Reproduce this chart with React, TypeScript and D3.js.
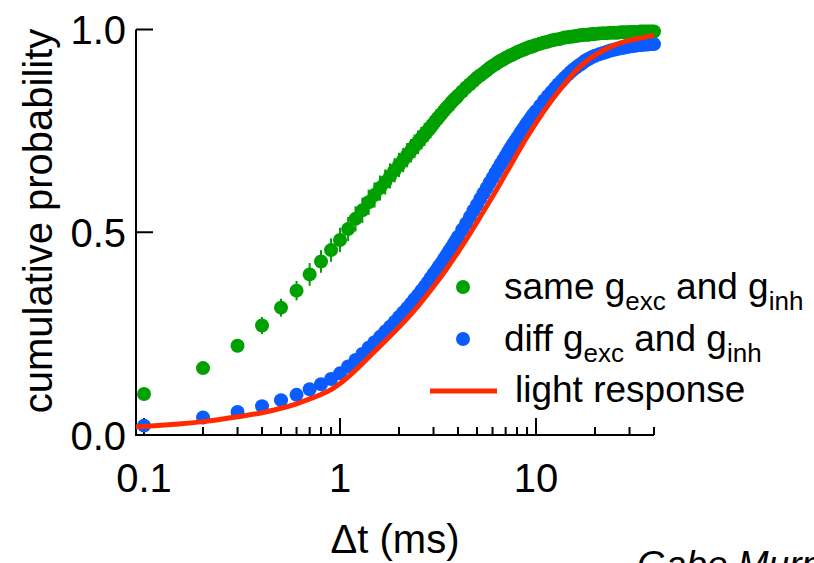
import React from "react";
import * as d3 from "d3";

// Sample times (ms) of the simulated cumulative distributions
const TIME = [
  0.1, 0.2, 0.3, 0.4, 0.5, 0.6, 0.7, 0.8, 0.9, 1.0,
  1.1, 1.2, 1.3, 1.4, 1.5, 1.6, 1.7, 1.8, 1.9, 2.0,
  2.1, 2.2, 2.3, 2.4, 2.5, 2.6, 2.7, 2.8, 2.9, 3.0,
  3.1, 3.2, 3.3, 3.4, 3.5, 3.6, 3.7, 3.8, 3.9, 4.0,
  4.2, 4.4, 4.6, 4.8, 5.0, 5.2, 5.4, 5.6, 5.8, 6.0,
  6.2, 6.4, 6.6, 6.8, 7.0, 7.2, 7.4, 7.6, 7.8, 8.0,
  8.2, 8.4, 8.6, 8.8, 9.0, 9.2, 9.4, 9.6, 9.8, 10,
  10.5, 11, 11.5, 12, 12.5, 13, 13.5, 14, 14.5, 15,
  15.5, 16, 16.5, 17, 17.5, 18, 18.5, 19, 19.5, 20,
  21, 22, 23, 24, 25, 26, 27, 28, 29, 30,
  31, 32, 33, 34, 35, 36, 37, 38, 39, 40,
];

// same g_exc and g_inh (green)
const SAME = [
  0.101, 0.165, 0.220, 0.270, 0.314, 0.356, 0.396, 0.428, 0.456, 0.481,
  0.508, 0.533, 0.554, 0.574, 0.592, 0.609, 0.624, 0.639, 0.653, 0.666,
  0.678, 0.690, 0.701, 0.712, 0.722, 0.732, 0.741, 0.750, 0.759, 0.768,
  0.777, 0.785, 0.792, 0.800, 0.807, 0.813, 0.820, 0.826, 0.831, 0.837,
  0.847, 0.857, 0.865, 0.873, 0.881, 0.887, 0.893, 0.899, 0.905, 0.910,
  0.914, 0.919, 0.923, 0.926, 0.930, 0.933, 0.936, 0.938, 0.941, 0.944,
  0.946, 0.948, 0.950, 0.952, 0.954, 0.956, 0.957, 0.959, 0.960, 0.962,
  0.965, 0.968, 0.970, 0.973, 0.975, 0.976, 0.978, 0.980, 0.981, 0.982,
  0.983, 0.984, 0.985, 0.986, 0.987, 0.987, 0.987, 0.988, 0.989, 0.989,
  0.990, 0.991, 0.991, 0.992, 0.992, 0.992, 0.993, 0.993, 0.993, 0.994,
  0.994, 0.994, 0.994, 0.995, 0.995, 0.995, 0.995, 0.995, 0.995, 0.995,
];

const SAME_ERR = [
  0.010, 0.012, 0.016, 0.021, 0.022, 0.024, 0.028, 0.028, 0.029, 0.030,
  0.030, 0.031, 0.031, 0.031, 0.031, 0.031, 0.031, 0.031, 0.030, 0.030,
  0.030, 0.030, 0.029, 0.029, 0.029, 0.028, 0.028, 0.027, 0.027, 0.026,
  0.026, 0.025, 0.024, 0.024, 0.023, 0.022, 0.022, 0.021, 0.020, 0.020,
  0.019, 0.018, 0.018, 0.017, 0.016, 0.016, 0.015, 0.015, 0.014, 0.014,
  0.013, 0.013, 0.013, 0.012, 0.012, 0.012, 0.011, 0.011, 0.011, 0.010,
  0.010, 0.010, 0.009, 0.009, 0.009, 0.009, 0.008, 0.008, 0.008, 0.008,
  0.008, 0.007, 0.007, 0.007, 0.007, 0.007, 0.006, 0.006, 0.006, 0.006,
  0.006, 0.006, 0.005, 0.005, 0.005, 0.005, 0.005, 0.005, 0.005, 0.005,
  0.005, 0.005, 0.004, 0.004, 0.004, 0.004, 0.004, 0.004, 0.004, 0.004,
  0.004, 0.004, 0.004, 0.004, 0.004, 0.004, 0.004, 0.004, 0.004, 0.004,
];

// diff g_exc and g_inh (blue)
const DIFF = [
  0.023, 0.043, 0.057, 0.071, 0.086, 0.099, 0.113, 0.125, 0.138, 0.152,
  0.169, 0.185, 0.200, 0.215, 0.229, 0.242, 0.255, 0.267, 0.279, 0.291,
  0.302, 0.313, 0.324, 0.335, 0.345, 0.356, 0.366, 0.376, 0.387, 0.397,
  0.406, 0.416, 0.425, 0.435, 0.444, 0.453, 0.462, 0.471, 0.480, 0.489,
  0.506, 0.522, 0.538, 0.554, 0.568, 0.583, 0.596, 0.609, 0.622, 0.634,
  0.646, 0.657, 0.668, 0.678, 0.688, 0.698, 0.707, 0.716, 0.724, 0.732,
  0.740, 0.748, 0.755, 0.762, 0.769, 0.775, 0.781, 0.788, 0.793, 0.799,
  0.812, 0.825, 0.836, 0.846, 0.856, 0.865, 0.873, 0.881, 0.888, 0.895,
  0.901, 0.906, 0.911, 0.915, 0.920, 0.924, 0.927, 0.930, 0.933, 0.935,
  0.939, 0.942, 0.945, 0.948, 0.950, 0.952, 0.954, 0.955, 0.957, 0.958,
  0.959, 0.960, 0.961, 0.962, 0.962, 0.963, 0.963, 0.964, 0.964, 0.964,
];

// light response (red line)
const LIGHT_T = [
  0.091, 0.1, 0.15, 0.2, 0.3, 0.4, 0.5, 0.6, 0.7, 0.8, 0.9, 1.0, 1.2, 1.5,
  2.0, 2.5, 3.0, 3.5, 4.0, 4.5, 5.0, 5.5, 6.0, 7.0, 8.0, 9.0, 10, 12, 14, 16,
  18, 20, 25, 30, 35, 40,
];
const LIGHT_P = [
  0.020, 0.021, 0.027, 0.033, 0.045, 0.055, 0.066, 0.077, 0.089, 0.100, 0.112,
  0.127, 0.160, 0.206, 0.266, 0.318, 0.366, 0.410, 0.451, 0.489, 0.525, 0.558,
  0.588, 0.644, 0.693, 0.735, 0.770, 0.825, 0.866, 0.898, 0.921, 0.937, 0.961,
  0.973, 0.980, 0.986,
];

const X_DOMAIN = [0.091, 40];
const X_LABELS = [0.1, 1, 10];
const Y_TICKS = [0, 0.5, 1.0];

const GREEN = "#00a000";
const BLUE = "#0a5cff";
const RED = "#ff2a00";
const FONT = "'Liberation Sans', Arial, Helvetica, sans-serif";

export default function App() {
  const W = 814;
  const H = 563;
  const x = d3.scaleLog().domain(X_DOMAIN).range([136, 654]);
  const y = d3.scaleLinear().domain([0, 1]).range([435, 29.5]);

  const allTicks = x.ticks().filter((t) => t >= 0.0999 && t <= 40.001);
  const isMajor = (t: number) => X_LABELS.some((m) => Math.abs(m - t) < 1e-6);

  const line = d3
    .line<number>()
    .x((_, i) => x(LIGHT_T[i]))
    .y((d) => y(d))
    .curve(d3.curveMonotoneX);

  const r = 7;

  return (
    <svg
      width={W}
      height={H}
      style={{ position: "absolute", left: 0, top: 0, background: "#fff" }}
      fontFamily={FONT}
    >
      <rect x={0} y={0} width={W} height={H} fill="#fff" />

      {/* axes */}
      <g stroke="#000" strokeWidth={2} fill="none">
        <line x1={136} x2={136} y1={y(1)} y2={y(0) + 1} />
        <line x1={135} x2={x(40)} y1={y(0)} y2={y(0)} />
        {Y_TICKS.map((t) => (
          <line key={"yt" + t} x1={136} x2={153} y1={y(t)} y2={y(t)} />
        ))}
        {allTicks.map((t) => (
          <line
            key={"xt" + t}
            x1={x(t)}
            x2={x(t)}
            y1={y(0)}
            y2={y(0) - (isMajor(t) ? 17 : 8)}
          />
        ))}
      </g>

      {/* tick labels */}
      <g fontSize={40} fill="#000">
        {Y_TICKS.map((t) => (
          <text key={"yl" + t} x={126} y={y(t) + 14.5} textAnchor="end">
            {t.toFixed(1)}
          </text>
        ))}
        {X_LABELS.map((t) => (
          <text key={"xl" + t} x={x(t)} y={492} textAnchor="middle">
            {String(t)}
          </text>
        ))}
      </g>

      {/* axis titles */}
      <text
        fontSize={40}
        textAnchor="middle"
        transform="translate(52,221) rotate(-90)"
      >
        cumulative probability
      </text>
      <text fontSize={40} x={395} y={553} textAnchor="middle">
        Δt (ms)
      </text>

      {/* diff (blue) */}
      <g fill={BLUE}>
        {DIFF.map((p, i) => (
          <circle key={"b" + i} cx={x(TIME[i])} cy={y(p)} r={r} />
        ))}
      </g>

      {/* same (green) with error bars */}
      <g stroke={GREEN} strokeWidth={2}>
        {SAME.map((p, i) => (
          <line
            key={"e" + i}
            x1={x(TIME[i])}
            x2={x(TIME[i])}
            y1={y(p - SAME_ERR[i])}
            y2={y(p + SAME_ERR[i])}
          />
        ))}
      </g>
      <g fill={GREEN}>
        {SAME.map((p, i) => (
          <circle key={"g" + i} cx={x(TIME[i])} cy={y(p)} r={r} />
        ))}
      </g>

      {/* light response (red) */}
      <path
        d={line(LIGHT_P) || ""}
        fill="none"
        stroke={RED}
        strokeWidth={5}
        strokeLinecap="butt"
      />

      {/* legend */}
      <g fontSize={37} fill="#000">
        <circle cx={463} cy={287} r={7} fill={GREEN} />
        <text x={504} y={299}>
          same g
          <tspan fontSize={26} dy={11}>exc</tspan>
          <tspan dy={-11}> and g</tspan>
          <tspan fontSize={26} dy={11}>inh</tspan>
        </text>
        <circle cx={463} cy={339} r={7} fill={BLUE} />
        <text x={504} y={351}>
          diff g
          <tspan fontSize={26} dy={11}>exc</tspan>
          <tspan dy={-11}> and g</tspan>
          <tspan fontSize={26} dy={11}>inh</tspan>
        </text>
        <line x1={430} x2={497} y1={391} y2={391} stroke={RED} strokeWidth={5} />
        <text x={515} y={402}>light response</text>
      </g>

      {/* credit, cut off at the bottom edge as in the original slide */}
      <text x={637} y={577} fontSize={37} fontStyle="italic" fill="#000">
        Gabe Murphy
      </text>
    </svg>
  );
}
